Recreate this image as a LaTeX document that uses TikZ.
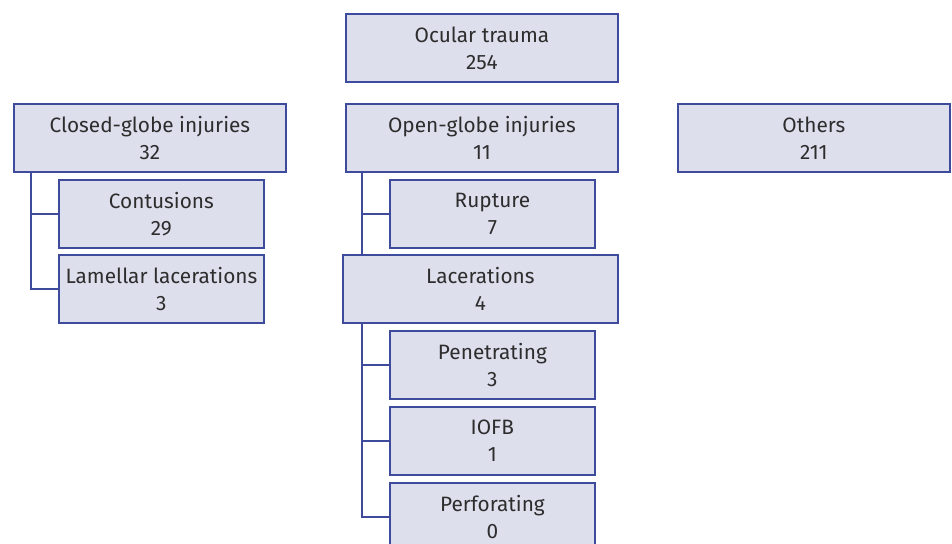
\documentclass[tikz,border=0pt]{standalone}
\usepackage{fontspec}
\setmainfont{Fira Sans}
\usepackage{xcolor}
\usepackage{tikz}
\usetikzlibrary{positioning, calc}

\definecolor{boxfill}{RGB}{221,223,237}
\definecolor{boxline}{RGB}{62,74,156}
\definecolor{boxtext}{RGB}{45,45,45}

\begin{document}
\begin{tikzpicture}[
    x=0.5pt, y=-0.5pt,
    cat/.style={
      rectangle, anchor=north west,
      draw=boxline, line width=0.9pt,
      fill=boxfill, text=boxtext,
      minimum height=34pt, inner sep=0pt,
      align=center, font=\fontsize{10.4}{13.5}\selectfont
    },
    wide/.style={cat, minimum width=136pt},
    sub/.style={cat, minimum width=102.5pt},
    link/.style={draw=boxline, line width=0.8pt}
  ]
    \useasboundingbox (0,0) rectangle (952,543);

    % top level
    \node[wide] (trauma) at (345,13) {Ocular trauma\\254};
    \node[wide] (closed) at (13,103) {Closed-globe injuries\\32};
    \node[wide] (open) at (345,103) {Open-globe injuries\\11};
    \node[wide] (others) at (677,103) {Others\\211};

    % closed-globe branch
    \node[sub] (contusion) at (58,179) {Contusions\\29};
    \node[sub] (lamellar) at (58,254) {Lamellar lacerations\\3};

    % open-globe branch
    \node[sub] (rupture) at (389,179) {Rupture\\7};
    \node[cat, minimum width=137.5pt] (lacer) at (342,254) {Lacerations\\4};
    \node[sub] (penetr) at (389,330) {Penetrating\\3};
    \node[sub] (iofb) at (389,406) {IOFB\\1};
    \node[sub] (perfor) at (389,482) {Perforating\\0};

    \coordinate (cl) at ($(closed.south west)+(18,0)$);
    \coordinate (op) at ($(open.south west)+(17,0)$);
    \coordinate (la) at ($(lacer.south west)+(20,0)$);

    \draw[link] (cl) |- (contusion.west);
    \draw[link] (cl) |- (lamellar.west);
    \draw[link] (op) |- (rupture.west);
    \draw[link] (op) -- (op |- lacer.north);
    \draw[link] (la) |- (penetr.west);
    \draw[link] (la) |- (iofb.west);
    \draw[link] (la) |- (perfor.west);
  \end{tikzpicture}
\end{document}
